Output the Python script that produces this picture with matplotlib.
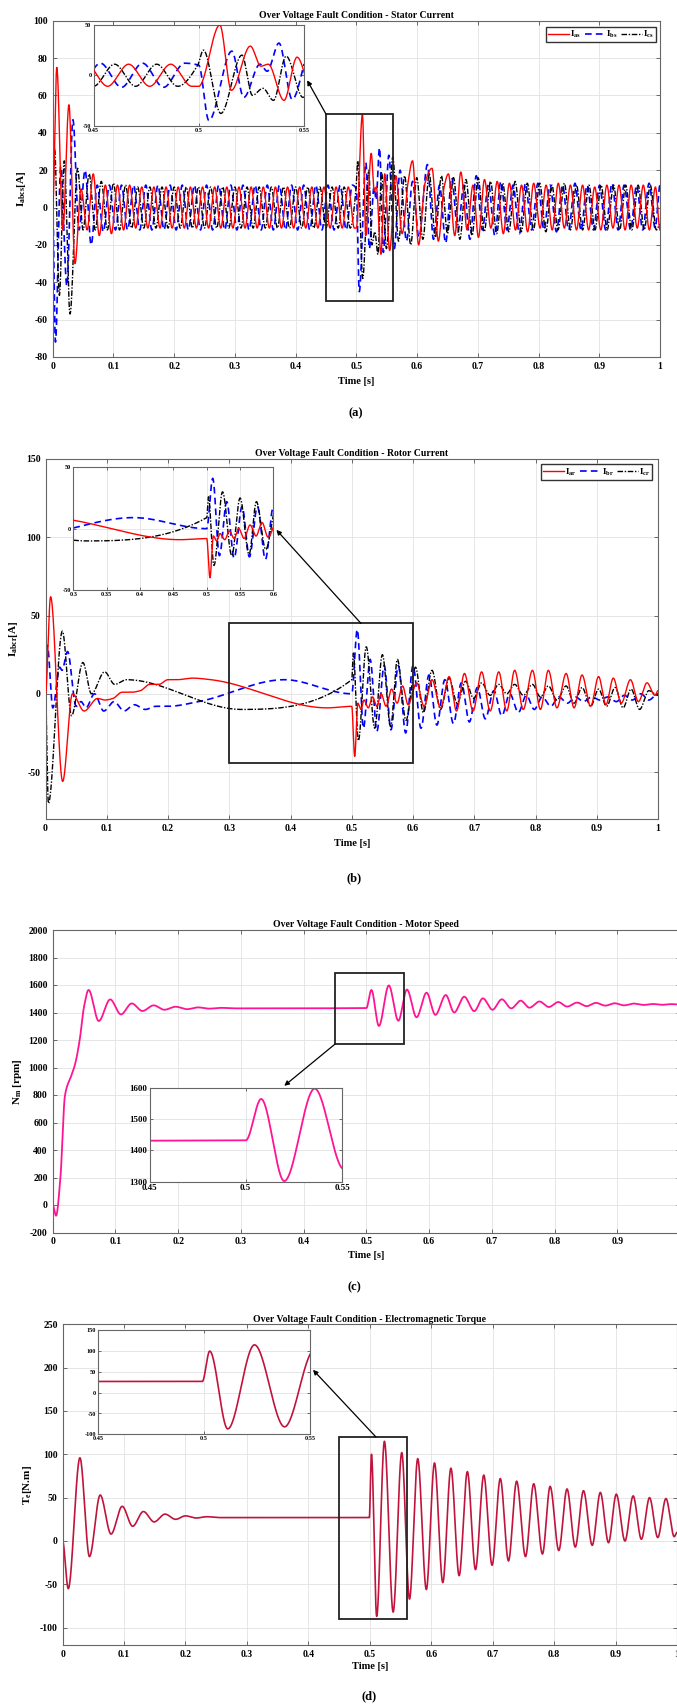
import numpy as np
import matplotlib
matplotlib.use('Agg')
import matplotlib.pyplot as plt
from matplotlib.patches import Rectangle

plt.rcParams['font.family'] = ['Liberation Serif', 'DejaVu Serif']
plt.rcParams['font.weight'] = 'bold'
plt.rcParams['mathtext.fontset'] = 'custom'
plt.rcParams['mathtext.rm'] = 'Liberation Serif'
plt.rcParams['mathtext.it'] = 'Liberation Serif'
plt.rcParams['mathtext.bf'] = 'Liberation Serif:bold'
plt.rcParams['axes.unicode_minus'] = False

# ---------------- data: extrema (time [s], value) -------------
# (a) stator currents
I_as = [(0, 0), (0.0067, 75), (0.0167, -12), (0.0267, 55), (0.0367, -30), (0.0467, 10), (0.0567, -12),
        (0.0667, 18), (0.0767, -15), (0.0867, 12), (0.0967, -14),
        (0.1067, 12), (0.1167, -12), (0.1267, 12), (0.1367, -11), (0.1467, 11), (0.1567, -11), (0.1667, 11),
        (0.1767, -11), (0.1867, 11), (0.1967, -11), (0.2067, 11), (0.2167, -11), (0.2267, 11), (0.2367, -11),
        (0.2467, 11), (0.2567, -11), (0.2667, 11), (0.2767, -11), (0.2867, 11), (0.2967, -11), (0.3067, 11),
        (0.3167, -11), (0.3267, 11), (0.3367, -11), (0.3467, 11), (0.3567, -11), (0.3667, 11), (0.3767, -11),
        (0.3867, 11), (0.3967, -11), (0.4067, 11), (0.4167, -11), (0.4267, 11), (0.4367, -11), (0.4467, 11),
        (0.4567, -11), (0.4667, 11), (0.4767, -11), (0.4867, 11), (0.4967, -11),
        (0.5, -11), (0.51, 50), (0.5155, -15), (0.5245, 29), (0.5295, 9), (0.533, 11), (0.5405, -25),
        (0.5467, 18), (0.5548, -23), (0.5650, 17), (0.5755, -14), (0.5845, 12), (0.5925, 25), (0.6025, -20),
        (0.6130, 13), (0.6246, 21), (0.6350, -18), (0.6445, 11), (0.6516, 18), (0.6620, -15), (0.6720, 19),
        (0.6825, -12), (0.6920, 12), (0.7010, -16), (0.7110, 15), (0.7215, -11), (0.7320, 14), (0.7420, -14),
        (0.7520, 13), (0.7620, -12), (0.7720, 12), (0.7820, -13), (0.7920, 13), (0.8025, -11), (0.8125, 12),
        (0.8225, -12), (0.8325, 13), (0.8425, -11), (0.8525, 12), (0.8625, -12), (0.8725, 12), (0.8825, -12),
        (0.8925, 11), (0.9025, -12), (0.9125, 12), (0.9225, -11), (0.9325, 12), (0.9425, -12), (0.9525, 12),
        (0.9625, -11), (0.9725, 12), (0.9825, -12), (0.9925, 11), (1.0, -12)]

I_bs = [(0, 0), (0.0045, -72), (0.0133, 22), (0.0233, -42), (0.0333, 47), (0.0433, -12), (0.0533, 20),
        (0.0633, -20), (0.0733, 12), (0.0833, -13), (0.0933, 12), (0.1033, -12),
        (0.1133, 12), (0.1233, -12), (0.1333, 12), (0.1433, -12), (0.1533, 12), (0.1633, -12), (0.1733, 12),
        (0.1833, -12), (0.1933, 12), (0.2033, -12), (0.2133, 12), (0.2233, -12), (0.2333, 12), (0.2433, -12),
        (0.2533, 12), (0.2633, -12), (0.2733, 12), (0.2833, -12), (0.2933, 12), (0.3033, -12), (0.3133, 12),
        (0.3233, -12), (0.3333, 12), (0.3433, -12), (0.3533, 12), (0.3633, -12), (0.3733, 12), (0.3833, -12),
        (0.3933, 12), (0.4033, -12), (0.4133, 12), (0.4233, -12), (0.4333, 12), (0.4433, -12), (0.4533, 12),
        (0.4633, -12), (0.4733, 12), (0.4833, -12), (0.4933, 12),
        (0.5, 10), (0.5048, -45), (0.5157, 24), (0.5214, -22), (0.5291, 11), (0.5325, 4), (0.5381, 32),
        (0.5444, -24), (0.5535, 28), (0.5625, -22), (0.5720, 20), (0.5825, -18), (0.5925, 14), (0.6030, -16),
        (0.6170, 23), (0.6270, -17), (0.6370, 12), (0.6470, -19), (0.6570, 16), (0.6670, -13), (0.6770, 12),
        (0.6870, -17), (0.6975, 17), (0.7075, -12), (0.7175, 13), (0.7280, -15), (0.7380, 14), (0.7480, -12),
        (0.7580, 12), (0.7685, -14), (0.7785, 13), (0.7885, -12), (0.7990, 13), (0.8090, -12), (0.8190, 12),
        (0.8295, -13), (0.8395, 12), (0.8495, -12), (0.8600, 13), (0.8700, -12), (0.8800, 12), (0.8905, -12),
        (0.9005, 12), (0.9105, -12), (0.9210, 13), (0.9310, -12), (0.9410, 12), (0.9515, -12), (0.9615, 12),
        (0.9715, -12), (0.9820, 13), (0.9920, -11), (1.0, 12)]

I_cs = [(0, 0), (0.003, 32), (0.011, -47), (0.019, 25), (0.0285, -57), (0.041, 21), (0.05, -12), (0.06, 18),
        (0.07, -12), (0.08, 14), (0.09, -12), (0.10, 13), (0.11, -12), (0.12, 12), (0.13, -11),
        (0.14, 11), (0.15, -11), (0.16, 11), (0.17, -11), (0.18, 11), (0.19, -11), (0.20, 11), (0.21, -11),
        (0.22, 11), (0.23, -11), (0.24, 11), (0.25, -11), (0.26, 11), (0.27, -11), (0.28, 11), (0.29, -11),
        (0.30, 11), (0.31, -11), (0.32, 11), (0.33, -11), (0.34, 11), (0.35, -11), (0.36, 11), (0.37, -11),
        (0.38, 11), (0.39, -11), (0.40, 11), (0.41, -11), (0.42, 11), (0.43, -11), (0.44, 11), (0.45, -11),
        (0.46, 11), (0.47, -11), (0.48, 11), (0.49, -11),
        (0.4995, 10), (0.5022, 25), (0.5105, -38), (0.5205, 20), (0.5255, -20), (0.5305, -13), (0.5355, -25),
        (0.5415, 19), (0.5495, -22), (0.5600, 27), (0.5695, -18), (0.5795, 17), (0.5895, -20), (0.5995, 16),
        (0.6095, -17), (0.6200, 18), (0.6300, -16), (0.6400, 17), (0.6500, -14), (0.6600, 16), (0.6705, -17),
        (0.6805, 15), (0.6905, -15), (0.7005, 16), (0.7105, -13), (0.7210, 14), (0.7310, -14), (0.7410, 13),
        (0.7510, -13), (0.7615, 14), (0.7715, -13), (0.7815, 13), (0.7915, -12), (0.8020, 13), (0.8120, -13),
        (0.8220, 12), (0.8320, -12), (0.8425, 13), (0.8525, -12), (0.8625, 12), (0.8725, -12), (0.8830, 12),
        (0.8930, -12), (0.9030, 12), (0.9130, -12), (0.9235, 12), (0.9335, -12), (0.9435, 12), (0.9535, -12),
        (0.9640, 12), (0.9740, -12), (0.9840, 12), (0.9940, -12), (1.0, -9)]

# (b) rotor currents
I_ar = [(0, 0), (0.0083, 62), (0.028, -56), (0.044, 0), (0.063, -11), (0.085, -3), (0.097, -4), (0.11, -3),
        (0.125, 1), (0.14, 1), (0.155, 2), (0.17, 6), (0.185, 6), (0.2, 9), (0.215, 9), (0.24, 10), (0.27, 9),
        (0.46, -9), (0.5, -8), (0.5048, -40), (0.510, -6), (0.515, -10), (0.520, -4), (0.527, -9), (0.534, -2),
        (0.541, -8), (0.548, 0), (0.556, -8), (0.565, 3), (0.574, -6), (0.583, 5), (0.592, -7), (0.606, 7),
        (0.618, -8), (0.631, 9), (0.645, -9), (0.659, 11), (0.671, -11), (0.684, 13), (0.698, -11), (0.712, 14),
        (0.726, -11), (0.740, 14), (0.753, -11), (0.766, 15), (0.780, -10), (0.795, 15), (0.808, -10),
        (0.821, 15), (0.835, -9), (0.850, 13), (0.863, -9), (0.876, 12), (0.890, -8), (0.903, 11), (0.915, -7),
        (0.927, 10), (0.940, -6), (0.955, 9), (0.968, -5), (0.982, 7), (0.995, -1), (1.0, 2)]

I_br = [(0, 0), (0.003, 31), (0.012, -9), (0.023, 17), (0.027, 15), (0.036, 27), (0.050, -8), (0.058, -5),
        (0.066, -9), (0.080, 0), (0.095, -11), (0.112, -5), (0.128, -11), (0.145, -7), (0.163, -10),
        (0.18, -8), (0.2, -8), (0.25, -5), (0.39, 9), (0.5, 0), (0.509, 41), (0.519, -22), (0.530, 22),
        (0.541, -24), (0.553, 18), (0.564, -23), (0.576, 18), (0.588, -25), (0.600, 18), (0.613, -22),
        (0.626, 12), (0.639, -20), (0.652, 9), (0.666, -19), (0.679, 7), (0.692, -18), (0.705, 4), (0.718, -16),
        (0.732, 2), (0.745, -14), (0.758, 0), (0.772, -12), (0.785, -1), (0.798, -10), (0.811, -2), (0.825, -8),
        (0.838, -2), (0.852, -6), (0.865, -2), (0.878, -5), (0.892, -2), (0.905, -4), (0.918, -2), (0.932, -5),
        (0.945, -1), (0.958, -4), (0.972, 0), (0.985, -4), (1.0, 0)]

I_cr = [(0, 0), (0.0047, -70), (0.0275, 40), (0.0425, -14), (0.061, 20), (0.075, 0), (0.0965, 14), (0.113, 6),
        (0.132, 9), (0.32, -10), (0.5, 9), (0.5026, 26), (0.5108, -30), (0.5237, 30), (0.5375, -22), (0.55, 25),
        (0.5635, -21), (0.5745, 22), (0.5885, -17), (0.604, 17), (0.617, -12), (0.631, 15), (0.645, -10),
        (0.659, 10), (0.672, -6), (0.686, 8), (0.699, -3), (0.712, 7), (0.726, -1), (0.740, 6), (0.753, 0),
        (0.766, 6), (0.780, -1), (0.795, 6), (0.808, -2), (0.821, 5), (0.835, -4), (0.850, 5), (0.863, -6),
        (0.876, 4), (0.890, -8), (0.903, 3), (0.916, -8), (0.930, 4), (0.943, -9), (0.956, 3), (0.970, -10),
        (0.985, 2), (1.0, -1)]

# (c) motor speed [rpm]
N_m = [(0, 0), (0.0053, -78), (0.0124, 206), (0.0193, 787), (0.0227, 860), (0.029, 932), (0.036, 1030),
       (0.043, 1200), (0.05, 1444), (0.0572, 1564), (0.0734, 1338), (0.0916, 1495), (0.1088, 1386),
       (0.126, 1466), (0.143, 1411), (0.161, 1452), (0.178, 1420), (0.196, 1442), (0.214, 1424), (0.232, 1437),
       (0.25, 1428), (0.268, 1434), (0.29, 1430), (0.5, 1432), (0.508, 1564), (0.52, 1302), (0.5358, 1597),
       (0.551, 1340), (0.5647, 1567), (0.580, 1365), (0.596, 1544), (0.610, 1383), (0.6266, 1527),
       (0.640, 1400), (0.656, 1515), (0.672, 1410), (0.6858, 1503), (0.701, 1420), (0.716, 1496),
       (0.731, 1430), (0.746, 1486), (0.760, 1435), (0.776, 1480), (0.791, 1440), (0.806, 1476),
       (0.820, 1443), (0.836, 1472), (0.851, 1446), (0.866, 1470), (0.881, 1450), (0.896, 1467),
       (0.911, 1452), (0.926, 1465), (0.942, 1455), (0.957, 1462), (0.972, 1456), (0.986, 1461), (1.0, 1458)]

# (d) electromagnetic torque [N.m]
T_e = [(0, 0), (0.0092, -55), (0.0282, 96), (0.0437, -18), (0.0612, 53), (0.0788, 8), (0.097, 40),
       (0.114, 17), (0.1315, 34), (0.149, 22), (0.1667, 31), (0.184, 25), (0.2, 29), (0.217, 26.5),
       (0.235, 28), (0.255, 27), (0.4992, 27), (0.5027, 100), (0.5112, -87), (0.5238, 115), (0.538, -82),
       (0.552, 102), (0.5646, -67), (0.578, 95), (0.592, -56), (0.6053, 90), (0.6188, -48), (0.632, 84),
       (0.6454, -40), (0.6588, 80), (0.672, -33), (0.6855, 76), (0.699, -28), (0.7124, 72), (0.7257, -23),
       (0.739, 69), (0.7534, -18), (0.7668, 66), (0.781, -15), (0.7935, 63), (0.8076, -11), (0.821, 60),
       (0.8344, -7), (0.8478, 58), (0.862, -5), (0.8752, 56), (0.8885, -2), (0.9012, 54), (0.9153, 0),
       (0.9286, 52), (0.942, 2), (0.9553, 50), (0.9687, 4), (0.982, 49), (0.9955, 5), (1.0, 10)]

titles = ['Over Voltage Fault Condition - Stator Current',
          'Over Voltage Fault Condition - Rotor Current',
          'Over Voltage Fault Condition - Motor Speed',
          'Over Voltage Fault Condition - Electromagnetic Torque']
xticks_main = [0, 0.1, 0.2, 0.3, 0.4, 0.5, 0.6, 0.7, 0.8, 0.9, 1.0]
xticklabels_main = ['0', '0.1', '0.2', '0.3', '0.4', '0.5', '0.6', '0.7', '0.8', '0.9', '1']


# ---------------- helpers ----------------
def pchip(pairs, tt):
    k = np.asarray(pairs, float)
    x, y = k[:, 0], k[:, 1]
    h = np.diff(x)
    d = np.diff(y) / h
    m = np.zeros_like(y)
    for i in range(1, len(y) - 1):
        if d[i - 1] * d[i] > 0:
            w1 = 2 * h[i] + h[i - 1]
            w2 = h[i] + 2 * h[i - 1]
            m[i] = (w1 + w2) / (w1 / d[i - 1] + w2 / d[i])
    idx = np.clip(np.searchsorted(x, tt, side='right') - 1, 0, len(x) - 2)
    s = (tt - x[idx]) / h[idx]
    h00 = 2 * s**3 - 3 * s**2 + 1
    h10 = s**3 - 2 * s**2 + s
    h01 = -2 * s**3 + 3 * s**2
    h11 = s**3 - s**2
    return h00 * y[idx] + h10 * h[idx] * m[idx] + h01 * y[idx + 1] + h11 * h[idx] * m[idx + 1]


W, H = 677, 1705
fig = plt.figure(figsize=(W / 100, H / 100), dpi=100)


def pax(x0, y0, x1, y1):
    return fig.add_axes([x0 / W, 1 - y1 / H, (x1 - x0) / W, (y1 - y0) / H])


def style(ax, fs, pad=3.0):
    ax.tick_params(direction='in', top=True, right=True, length=3, width=0.6,
                   labelsize=fs, pad=pad, color='#555555', labelcolor='black')
    for s in ax.spines.values():
        s.set_color('#666666')
        s.set_linewidth(0.8)
    ax.grid(True, color='#e2e2e2', lw=0.6)
    ax.set_axisbelow(True)
    for lab in ax.get_xticklabels() + ax.get_yticklabels():
        lab.set_fontweight('bold')


tt = np.linspace(0, 1, 20001)

RED, BLUE, BLACK = '#ff0000', '#0000ff', '#000000'
PINK, CRIM = '#ff1493', '#c0143c'
red_kw = dict(color=RED, lw=1.0, ls='-')
blue_kw = dict(color=BLUE, lw=1.2, ls=(0, (4, 2.5)))
black_kw = dict(color=BLACK, lw=1.0, ls=(0, (4, 1.2, 1, 1.2)))


def main_axes(box, ylim, yticks, title, ylabel, ylab_x, xlab_y):
    ax = pax(*box)
    ax.set_xlim(0, 1)
    ax.set_ylim(*ylim)
    ax.set_xticks(xticks_main)
    ax.set_xticklabels(xticklabels_main)
    ax.set_yticks(yticks)
    ax.set_yticklabels([str(v) for v in yticks])
    style(ax, 7, pad=3.5)
    ax.set_title(title, fontsize=7, fontweight='bold', pad=2)
    ax.set_ylabel(ylabel, fontsize=8, fontweight='bold')
    ax.yaxis.set_label_coords(ylab_x, 0.5)
    ax.set_xlabel('Time [s]', fontsize=7.5, fontweight='bold')
    ax.xaxis.set_label_coords(0.5, xlab_y)
    return ax


def inset_axes(box, xlim, xticks, xtl, ylim, yticks, fs):
    ax = pax(*box)
    ax.set_xlim(*xlim)
    ax.set_ylim(*ylim)
    ax.set_xticks(xticks)
    ax.set_xticklabels(xtl)
    ax.set_yticks(yticks)
    ax.set_yticklabels([str(v) for v in yticks])
    style(ax, fs, pad=1.5)
    ax.tick_params(length=2)
    ax.set_facecolor('white')
    return ax


def arrow(ax, inset, tail, head):
    ax.annotate('', xy=head, xycoords=inset.transAxes, xytext=tail, textcoords='data',
                arrowprops=dict(arrowstyle='-|>', color='black', lw=0.9, mutation_scale=7,
                                shrinkA=0, shrinkB=0), annotation_clip=False, zorder=6)


# ---------------- (a) stator current ----------------
axa = main_axes((52.7, 20.7, 660, 357), (-80, 100), list(range(-80, 101, 20)), titles[0],
                r'$\mathbf{I_{abcs}}$[A]', -0.040, -0.06)
ya, yb, yc = pchip(I_as, tt), pchip(I_bs, tt), pchip(I_cs, tt)
axa.plot(tt, ya, label=r'I$_{as}$', zorder=3, **red_kw)
axa.plot(tt, yb, label=r'I$_{bs}$', zorder=2, **blue_kw)
axa.plot(tt, yc, label=r'I$_{cs}$', zorder=2, **black_kw)
axa.add_patch(Rectangle((0.45, -50), 0.11, 100, fill=False, ec='#222222', lw=1.3, zorder=5))
axa.legend(loc='upper right', bbox_to_anchor=(0.9934, 0.982), borderaxespad=0, ncol=3, fontsize=6.5,
           handlelength=2.3, handletextpad=0.1, columnspacing=0.4, borderpad=0.25, fancybox=False,
           edgecolor='#333333', framealpha=1)
ina = inset_axes((93.5, 25, 304, 125.5), (0.45, 0.55), [0.45, 0.5, 0.55], ['0.45', '0.5', '0.55'],
                 (-50, 50), [-50, 0, 50], 4.5)
ina.plot(tt, ya, zorder=3, **red_kw)
ina.plot(tt, yb, zorder=2, **blue_kw)
ina.plot(tt, yc, zorder=2, **black_kw)
arrow(axa, ina, (0.45, 50), (1.015, 0.45))
fig.text(356 / W, 1 - 413 / H, '(a)', ha='center', va='center', fontsize=9, fontweight='bold')

# ---------------- (b) rotor current ----------------
axb = main_axes((45.5, 459, 658, 819), (-80, 150), [-50, 0, 50, 100, 150], titles[1],
                r'$\mathbf{I_{abcr}}$[A]', -0.042, -0.056)
ra, rb, rc = pchip(I_ar, tt), pchip(I_br, tt), pchip(I_cr, tt)
axb.plot(tt, ra, label=r'I$_{ar}$', zorder=3, **red_kw)
axb.plot(tt, rb, label=r'I$_{br}$', zorder=2, **blue_kw)
axb.plot(tt, rc, label=r'I$_{cr}$', zorder=2, **black_kw)
axb.add_patch(Rectangle((0.30, -44), 0.30, 89, fill=False, ec='#222222', lw=1.3, zorder=5))
axb.legend(loc='upper right', bbox_to_anchor=(0.990, 0.985), borderaxespad=0, ncol=3, fontsize=6.5,
           handlelength=2.3, handletextpad=0.1, columnspacing=0.4, borderpad=0.25, fancybox=False,
           edgecolor='#333333', framealpha=1)
inb = inset_axes((73.4, 467.3, 273.4, 590), (0.3, 0.6), [0.3, 0.35, 0.4, 0.45, 0.5, 0.55, 0.6],
                 ['0.3', '0.35', '0.4', '0.45', '0.5', '0.55', '0.6'], (-50, 50), [-50, 0, 50], 4.5)
inb.plot(tt, ra, zorder=3, **red_kw)
inb.plot(tt, rb, zorder=2, **blue_kw)
inb.plot(tt, rc, zorder=2, **black_kw)
arrow(axb, inb, (0.515, 45), (1.015, 0.49))
fig.text(354 / W, 1 - 878 / H, '(b)', ha='center', va='center', fontsize=9, fontweight='bold')

# ---------------- (c) motor speed ----------------
axc = main_axes((52.7, 930, 680, 1232.5), (-200, 2000), list(range(-200, 2001, 200)), titles[2],
                r'$\mathbf{N_m}$ [rpm]', -0.046, -0.061)
nm = pchip(N_m, tt)
axc.plot(tt, nm, color=PINK, lw=1.3)
axc.add_patch(Rectangle((0.45, 1170), 0.11, 520, fill=False, ec='#222222', lw=1.3, zorder=5))
inc = inset_axes((149.5, 1087.7, 342, 1181.7), (0.45, 0.55), [0.45, 0.5, 0.55], ['0.45', '0.5', '0.55'],
                 (1300, 1600), [1300, 1400, 1500, 1600], 6.5)
inc.plot(tt, nm, color=PINK, lw=1.3)
arrow(axc, inc, (0.45, 1170), (0.70, 1.02))
fig.text(354 / W, 1 - 1287 / H, '(c)', ha='center', va='center', fontsize=9, fontweight='bold')

# ---------------- (d) torque ----------------
axd = main_axes((62.6, 1324.3, 677, 1645), (-120, 250), list(range(-100, 251, 50)), titles[3],
                r'$\mathbf{T_e}$[N.m]', -0.047, -0.053)
te = pchip(T_e, tt)
axd.plot(tt, te, color=CRIM, lw=1.2)
axd.add_patch(Rectangle((0.45, -90), 0.11, 210, fill=False, ec='#222222', lw=1.3, zorder=5))
ind = inset_axes((98, 1330.3, 310, 1434.3), (0.45, 0.55), [0.45, 0.5, 0.55], ['0.45', '0.5', '0.55'],
                 (-100, 150), [-100, -50, 0, 50, 100, 150], 4.5)
ind.plot(tt, te, color=CRIM, lw=1.2)
arrow(axd, ind, (0.51, 120), (1.014, 0.62))
fig.text(369 / W, 1 - 1696 / H, '(d)', ha='center', va='center', fontsize=9, fontweight='bold')

fig.savefig('out.png', dpi=100)
